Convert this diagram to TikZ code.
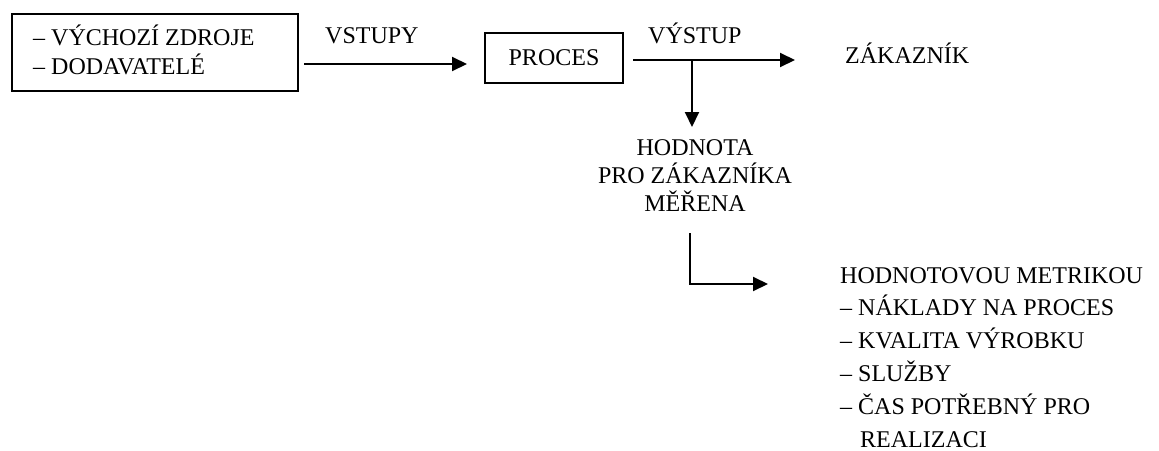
\documentclass[tikz,border=0pt]{standalone}
\usepackage{fontspec}
\setmainfont{Liberation Serif}
\usetikzlibrary{arrows.meta}
\begin{document}
\begin{tikzpicture}[x=1pt,y=-1pt,
  txt/.style={inner sep=0pt, font=\fontsize{24}{29}\selectfont},
  boxed/.style={draw, line width=1.4pt, inner sep=0pt},
  arr/.style={line width=2pt, -{Triangle[length=15pt,width=14pt]}},
  ln/.style={line width=2pt}]
\useasboundingbox (0,0) rectangle (1159,450);
% source box
\node[boxed, minimum width=286pt, minimum height=77pt] (src) at (155,52.5) {};
\node[txt, anchor=base west, align=left] (srctext) at (33,74) {– VÝCHOZÍ ZDROJE\\– DODAVATELÉ};
% process box
\node[boxed, txt, minimum width=138pt, minimum height=50pt] (proc) at (554,58) {PROCES};
% labels
\node[txt, anchor=base west] (vstupy) at (325,43) {VSTUPY};
\node[txt, anchor=base west] (vystup) at (648,43) {VÝSTUP};
\node[txt, anchor=base west] (zak) at (845,63) {ZÁKAZNÍK};
\node[txt, anchor=base, align=center, font=\fontsize{24}{28}\selectfont] (hod) at (695,211) {HODNOTA\\PRO ZÁKAZNÍKA\\MĚŘENA};
\node[txt, anchor=base west, align=left, font=\fontsize{24}{32.8}\selectfont] (met) at (840,447)
  {HODNOTOVOU METRIKOU\\– NÁKLADY NA PROCES\\– KVALITA VÝROBKU\\– SLUŽBY\\– ČAS POTŘEBNÝ PRO\\\hspace*{20pt}REALIZACI};
% connector coordinates
\coordinate (a1s) at (304,64);
\coordinate (a1e) at (467,64);
\coordinate (a2s) at (633,60);
\coordinate (a2e) at (795,60);
\coordinate (a3s) at (692,60);
\coordinate (a3e) at (692,127);
\coordinate (a4s) at (690,233);
\coordinate (a4e) at (768,284);
% connectors
\draw[arr] (a1s) -- (a1e);
\draw[arr] (a2s) -- (a2e);
\draw[arr] (a3s) -- (a3e);
\draw[arr] (a4s) |- (a4e);
\end{tikzpicture}
\end{document}
